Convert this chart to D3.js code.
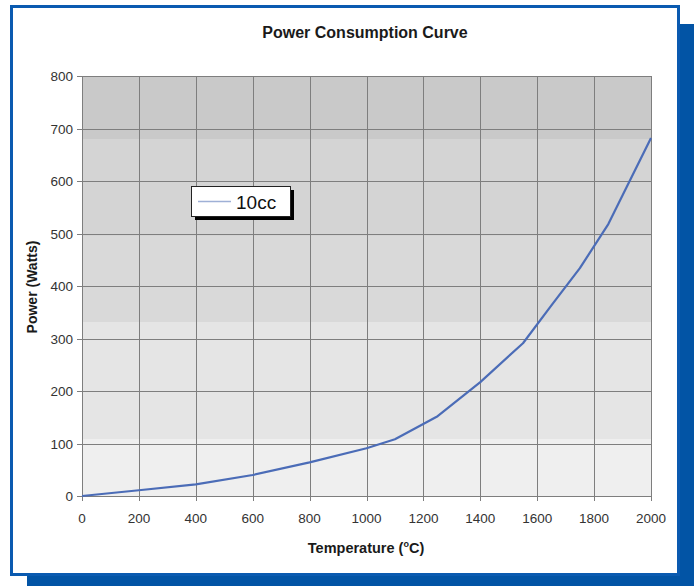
<!DOCTYPE html>
<html><head><meta charset="utf-8">
<script src="https://cdn.jsdelivr.net/npm/d3@7"></script>
<style>html,body{margin:0;padding:0;background:#fff;}svg{display:block;}</style>
</head><body>
<script>
const temperature = [0, 200, 400, 600, 800, 1000, 1100, 1250, 1400, 1550, 1650, 1750, 1850, 2000];
const power10cc = [0, 11, 22, 40, 64, 91, 108, 152, 217, 291, 363, 434, 518, 682];
const xTicks = [0,200,400,600,800,1000,1200,1400,1600,1800,2000];
const yTicks = [0,100,200,300,400,500,600,700,800];
const seriesName = "10cc";

const W = 694, H = 586;
const svg = d3.select("body").append("svg").attr("width", W).attr("height", H);

// frame shadow and frame
svg.append("rect").attr("x",27).attr("y",24).attr("width",667).attr("height",562).attr("fill","#0254a5");
svg.append("rect").attr("x",11.5).attr("y",6.5).attr("width",667).attr("height",568).attr("fill","#fff").attr("stroke","#0a5ab0").attr("stroke-width",3);

const m = {l:82, r:651, t:76, b:496};
const x = d3.scaleLinear().domain([0,2000]).range([m.l, m.r]);
const y = d3.scaleLinear().domain([0,800]).range([m.b, m.t]);

// banded background
const defs = svg.append("defs");
const g = defs.append("linearGradient").attr("id","bg").attr("x1",0).attr("y1",0).attr("x2",0).attr("y2",1);
const bands = [["#c9c9c9",0,0.15],["#d4d4d4",0.15,0.38],["#d9d9d9",0.38,0.585],["#e5e5e5",0.585,0.865],["#efefef",0.865,1]];
bands.forEach(b=>{g.append("stop").attr("offset",b[1]).attr("stop-color",b[0]);g.append("stop").attr("offset",b[2]).attr("stop-color",b[0]);});
svg.append("rect").attr("x",m.l).attr("y",m.t).attr("width",m.r-m.l).attr("height",m.b-m.t).attr("fill","url(#bg)");

// grid
svg.append("g").selectAll("line").data(yTicks).join("line")
  .attr("x1",m.l-5).attr("x2",m.r).attr("y1",d=>Math.round(y(d))+0.5).attr("y2",d=>Math.round(y(d))+0.5)
  .attr("stroke","#7e7e7e").attr("stroke-width",1);
svg.append("g").selectAll("line").data(xTicks).join("line")
  .attr("x1",d=>Math.round(x(d))+0.5).attr("x2",d=>Math.round(x(d))+0.5).attr("y1",m.t).attr("y2",m.b+5)
  .attr("stroke","#7e7e7e").attr("stroke-width",1);

const FF = "Liberation Sans, Arial, Helvetica, sans-serif";
// tick labels
svg.append("g").selectAll("text").data(yTicks).join("text")
  .attr("x",m.l-9).attr("y",d=>y(d)+5).attr("text-anchor","end")
  .attr("font-family",FF).attr("font-size",13.5).attr("fill","#333")
  .text(d=>d);
svg.append("g").selectAll("text").data(xTicks).join("text")
  .attr("x",d=>x(d)).attr("y",m.b+27).attr("text-anchor","middle")
  .attr("font-family",FF).attr("font-size",13.5).attr("fill","#333")
  .text(d=>d);

// line
const data = temperature.map((t,i)=>[t,power10cc[i]]);
svg.append("path").datum(data).attr("fill","none").attr("stroke","#4b6cb7").attr("stroke-width",2.2)
  .attr("stroke-linejoin","round")
  .attr("d", d3.line().x(d=>x(d[0])).y(d=>y(d[1])));

// titles
svg.append("text").attr("x",365).attr("y",38).attr("text-anchor","middle")
  .attr("font-family",FF).attr("font-weight","bold").attr("font-size",16).attr("fill","#1a1a1a")
  .text("Power Consumption Curve");
const xl = svg.append("text").attr("x",366).attr("y",553).attr("text-anchor","middle")
  .attr("font-family",FF).attr("font-weight","bold").attr("font-size",14.5).attr("fill","#1a1a1a");
xl.append("tspan").text("Temperature (");
xl.append("tspan").attr("font-size",9).attr("dy",-6).text("o");
xl.append("tspan").attr("dy",6).text("C)");
svg.append("text").attr("transform","translate(37,287) rotate(-90)").attr("text-anchor","middle")
  .attr("font-family",FF).attr("font-weight","bold").attr("font-size",14).attr("fill","#1a1a1a")
  .text("Power (Watts)");

// legend
svg.append("rect").attr("x",195).attr("y",190).attr("width",99).attr("height",30).attr("fill","#000");
svg.append("rect").attr("x",191.5).attr("y",186.5).attr("width",99).attr("height",30).attr("fill","#fff").attr("stroke","#222").attr("stroke-width",1);
svg.append("line").attr("x1",198).attr("x2",231).attr("y1",201.5).attr("y2",201.5).attr("stroke","#9fb0d6").attr("stroke-width",1.5);
svg.append("text").attr("x",236).attr("y",209).attr("font-family",FF).attr("font-size",19).attr("fill","#111").text(seriesName);
</script>
</body></html>
